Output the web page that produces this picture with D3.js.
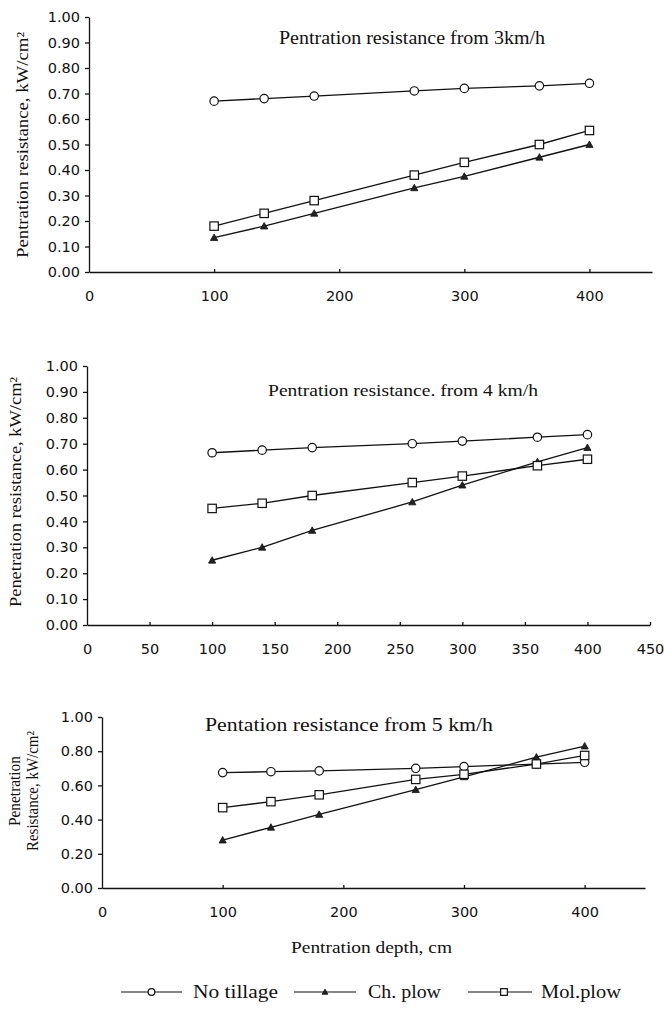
<!DOCTYPE html>
<html>
<head>
<meta charset="utf-8">
<script src="https://cdn.jsdelivr.net/npm/d3@7"></script>
<style>
  body { margin: 0; background: #fff; }
  .tick text { font-family: "DejaVu Sans", Arial, sans-serif; font-size: 14.5px; fill: #111; }
  .domain, .tick line { stroke: #111; stroke-width: 1.3; }
  .serif { font-family: "Liberation Serif", "Times New Roman", serif; fill: #111; }
</style>
</head>
<body>
<svg id="chart" width="664" height="1013"></svg>
<script>
// penetration depth (cm) where readings were taken
const depth = [100, 140, 180, 260, 300, 360, 400];

// 3 km/h
const noTill3 = [0.67, 0.68, 0.69, 0.71, 0.72, 0.73, 0.74];
const chPlow3 = [0.135, 0.18, 0.23, 0.33, 0.375, 0.45, 0.50];
const molPlow3 = [0.18, 0.23, 0.28, 0.38, 0.43, 0.50, 0.555];

// 4 km/h
const noTill4 = [0.665, 0.675, 0.685, 0.70, 0.71, 0.725, 0.735];
const chPlow4 = [0.25, 0.30, 0.365, 0.475, 0.54, 0.63, 0.685];
const molPlow4 = [0.45, 0.47, 0.50, 0.55, 0.575, 0.615, 0.64];

// 5 km/h
const noTill5 = [0.675, 0.68, 0.685, 0.70, 0.71, 0.725, 0.735];
const chPlow5 = [0.28, 0.355, 0.43, 0.575, 0.65, 0.765, 0.83];
const molPlow5 = [0.47, 0.505, 0.545, 0.635, 0.665, 0.725, 0.775];

const xTicks100 = [0, 100, 200, 300, 400];
const xTicks50 = [0, 50, 100, 150, 200, 250, 300, 350, 400, 450];
const yTicks10 = [0, 0.1, 0.2, 0.3, 0.4, 0.5, 0.6, 0.7, 0.8, 0.9, 1.0];
const yTicks20 = [0, 0.2, 0.4, 0.6, 0.8, 1.0];

const seriesNames = ['No tillage', 'Ch. plow', 'Mol.plow'];
const markers = ['circle', 'triangle', 'square'];

const svg = d3.select('#chart');

function drawMarker(g, type, x, y, scale) {
  let s = scale || 1;
  if (type === 'circle') {
    g.append('circle').attr('cx', x).attr('cy', y).attr('r', 4.2 * s)
      .attr('fill', '#fff').attr('stroke', '#111').attr('stroke-width', 1.2);
  } else if (type === 'square') {
    let h = 4.2 * s;
    g.append('rect').attr('x', x - h).attr('y', y - h).attr('width', 2 * h).attr('height', 2 * h)
      .attr('fill', '#fff').attr('stroke', '#111').attr('stroke-width', 1.2);
  } else {
    let h = 3.6 * s;
    g.append('path')
      .attr('d', `M${x},${y - h}L${x + h},${y + h * 0.8}L${x - h},${y + h * 0.8}Z`)
      .attr('fill', '#222').attr('stroke', '#111').attr('stroke-width', 0.8);
  }
}

function drawPanel(cfg) {
  const x = d3.scaleLinear().domain([0, 450]).range([cfg.left, cfg.right]);
  const y = d3.scaleLinear().domain([0, 1]).range([cfg.bottom, cfg.top]);
  const g = svg.append('g');

  g.append('g')
    .attr('transform', `translate(${cfg.left},0)`)
    .call(d3.axisLeft(y).tickValues(cfg.yTicks).tickFormat(d3.format('.2f')).tickSizeInner(4).tickSizeOuter(0).tickPadding(cfg.yPad));

  const xa = g.append('g')
    .attr('transform', `translate(0,${cfg.bottom})`)
    .call(d3.axisBottom(x).tickValues(cfg.xTicks).tickSizeInner(-3).tickSizeOuter(0).tickPadding(19));
  xa.selectAll('.tick line').filter(d => d === 0).remove();

  const line = d3.line().x((d, i) => x(depth[i])).y(d => y(d));

  cfg.series.forEach((vals, k) => {
    g.append('path').datum(vals)
      .attr('d', line)
      .attr('fill', 'none')
      .attr('stroke', '#111')
      .attr('stroke-width', 1.3);
  });
  cfg.series.forEach((vals, k) => {
    vals.forEach((v, i) => drawMarker(g, markers[k], x(depth[i]), y(v)));
  });

  g.append('text').attr('class', 'serif')
    .attr('x', cfg.titleX).attr('y', cfg.titleY)
    .attr('font-size', cfg.titleSize)
    .attr('textLength', cfg.titleW).attr('lengthAdjust', 'spacingAndGlyphs')
    .text(cfg.title);

  cfg.yTitle.forEach((t, i) => {
    g.append('text').attr('class', 'serif')
      .attr('transform', `translate(${cfg.yTitleX[i]},${cfg.yTitleY}) rotate(-90)`)
      .attr('text-anchor', 'middle')
      .attr('font-size', 16)
      .attr('textLength', cfg.yTitleW[i]).attr('lengthAdjust', 'spacingAndGlyphs')
      .text(t);
  });
}

drawPanel({
  left: 89, right: 652, top: 17, bottom: 272,
  xTicks: xTicks100, yTicks: yTicks10, yPad: 5,
  series: [noTill3, chPlow3, molPlow3],
  title: 'Pentration resistance from  3km/h', titleX: 279, titleY: 44, titleW: 266, titleSize: 18,
  yTitle: ['Pentration resistance, kW/cm²'], yTitleX: [28], yTitleY: 145, yTitleW: [226]
});

drawPanel({
  left: 87, right: 650, top: 366, bottom: 625,
  xTicks: xTicks50, yTicks: yTicks10, yPad: 5,
  series: [noTill4, chPlow4, molPlow4],
  title: 'Pentration resistance. from 4 km/h', titleX: 268, titleY: 396, titleW: 270, titleSize: 17,
  yTitle: ['Penetration resistance, kW/cm²'], yTitleX: [21], yTitleY: 492, yTitleW: [230]
});

drawPanel({
  left: 102, right: 645, top: 717, bottom: 888,
  xTicks: xTicks100, yTicks: yTicks20, yPad: 5,
  series: [noTill5, chPlow5, molPlow5],
  title: 'Pentation resistance from 5 km/h', titleX: 205, titleY: 731, titleW: 288, titleSize: 18,
  yTitle: ['Penetration', 'Resistance, kW/cm²'], yTitleX: [20, 38], yTitleY: 791, yTitleW: [70, 120]
});

// x axis title
svg.append('text').attr('class', 'serif')
  .attr('x', 291).attr('y', 953)
  .attr('font-size', 17)
  .attr('textLength', 161).attr('lengthAdjust', 'spacingAndGlyphs')
  .text('Pentration depth, cm');

// legend
const legendLine = [[121, 182], [294, 356], [468, 532]];
const legendText = [193, 368, 541];
const legendTextW = [85, 73, 80];
const legendY = 992;
seriesNames.forEach((name, k) => {
  const lg = svg.append('g');
  lg.append('line')
    .attr('x1', legendLine[k][0]).attr('x2', legendLine[k][1])
    .attr('y1', legendY).attr('y2', legendY)
    .attr('stroke', '#111').attr('stroke-width', 1.2);
  drawMarker(lg, markers[k], (legendLine[k][0] + legendLine[k][1]) / 2 + (k === 2 ? 4 : 0), legendY, 0.8);
  lg.append('text').attr('class', 'serif')
    .attr('x', legendText[k]).attr('y', legendY + 6)
    .attr('font-size', 18)
    .attr('textLength', legendTextW[k]).attr('lengthAdjust', 'spacingAndGlyphs')
    .text(name);
});
</script>
</body>
</html>
